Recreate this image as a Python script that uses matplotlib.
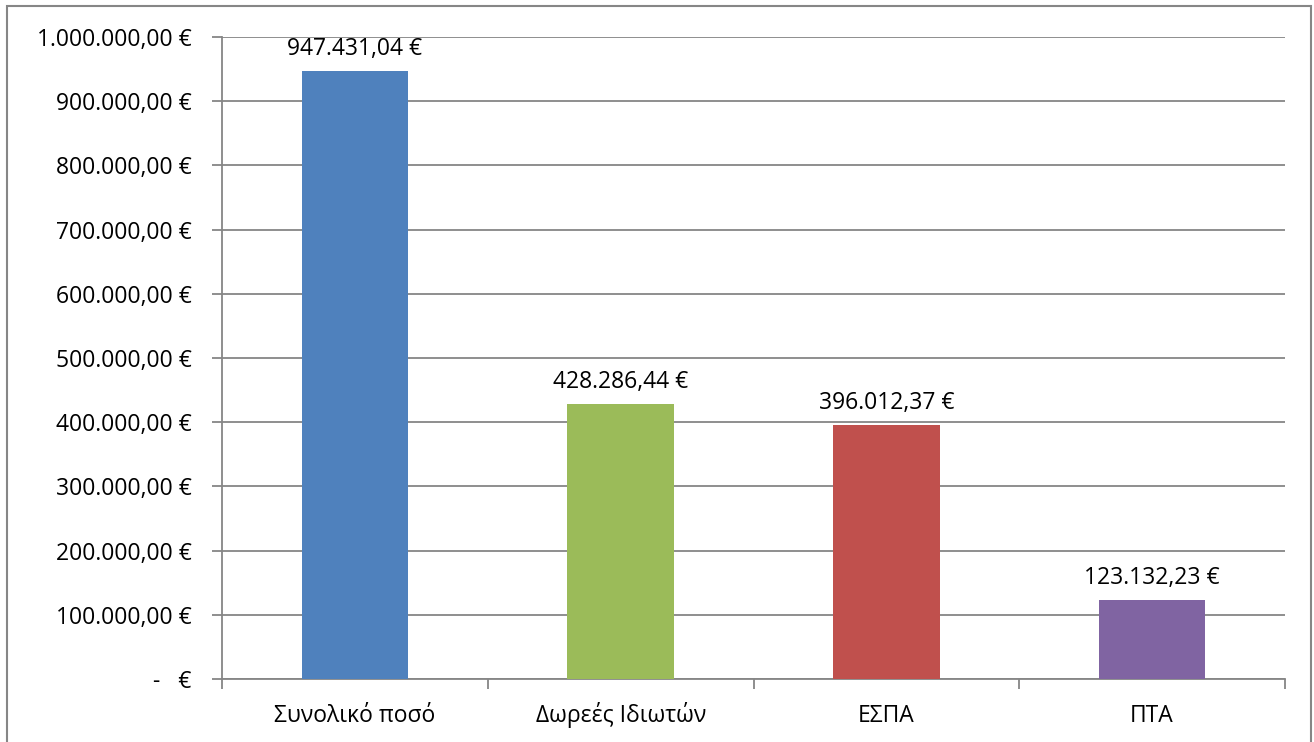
import matplotlib.pyplot as plt
from matplotlib.patches import Rectangle
from matplotlib.ticker import FuncFormatter, FixedLocator

plt.rcParams['font.family'] = ['Open Sans', 'DejaVu Sans']

categories = ['Συνολικό ποσό', 'Δωρεές Ιδιωτών', 'ΕΣΠΑ', 'ΠΤΑ']
values = [947431.04, 428286.44, 396012.37, 123132.23]
colors = ['#4F81BD', '#9BBB59', '#C0504D', '#8064A2']
yticks = [0, 100000, 200000, 300000, 400000, 500000, 600000, 700000, 800000, 900000, 1000000]


def euro(v):
    s = f'{v:,.2f}'
    s = s.replace(',', 'X').replace('.', ',').replace('X', '.')
    return s + ' €'


def ytick_fmt(v, pos):
    if v == 0:
        return '-   €'
    return euro(v)


fs = 16.5
fig = plt.figure(figsize=(13.14, 7.42), dpi=100)
ax = fig.add_axes([222 / 1314, 1 - 679 / 742, (1285 - 222) / 1314, (679 - 37) / 742])

grid_col = '#868686'
x = range(len(categories))
ax.bar(x, values, width=0.40, color=colors, zorder=3)

for i, v in enumerate(values):
    ax.annotate(euro(v), (i, v), xytext=(0, 7), textcoords='offset points',
                ha='center', va='bottom', fontsize=fs, color='black')

ax.set_xlim(-0.5, len(categories) - 0.5)
ax.set_ylim(0, 1000000)
ax.set_yticks(yticks)
ax.yaxis.set_major_formatter(FuncFormatter(ytick_fmt))
ax.set_xticks(list(x))
ax.set_xticklabels(categories, va='baseline')
ax.xaxis.set_minor_locator(FixedLocator([-0.5, 0.5, 1.5, 2.5, 3.5]))

ax.grid(axis='y', color=grid_col, linewidth=1.3, zorder=0)
ax.tick_params(axis='y', length=7, width=1.3, color=grid_col, labelsize=fs, pad=15)
ax.tick_params(axis='x', which='major', length=0, labelsize=fs, pad=31)
ax.tick_params(axis='x', which='minor', length=7, width=1.3, color=grid_col)

for side in ['top', 'right']:
    ax.spines[side].set_visible(False)
for side in ['left', 'bottom']:
    ax.spines[side].set_color(grid_col)
    ax.spines[side].set_linewidth(1.3)

border = Rectangle((7 / 1314, -0.02), (1311 - 7) / 1314, 1.02 - 6 / 742,
                   transform=fig.transFigure, fill=False, edgecolor='#868686',
                   linewidth=1.5, clip_on=False)
fig.patches.append(border)

plt.savefig('out.png', dpi=100)
